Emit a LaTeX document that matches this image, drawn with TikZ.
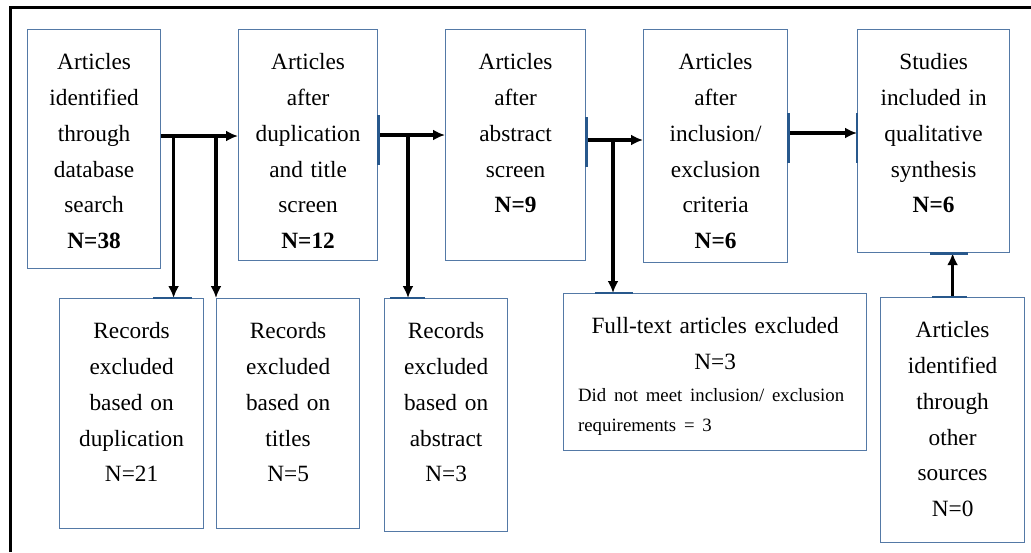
\documentclass[tikz,border=0pt]{standalone}
\usepackage{fontspec}
\setmainfont{Liberation Serif}
\usetikzlibrary{arrows.meta}
\definecolor{boxblue}{RGB}{84,121,166}
\definecolor{tickblue}{RGB}{40,88,140}

\begin{document}
\begin{tikzpicture}[x=1pt,y=-1pt,
  box/.style={draw=boxblue,line width=1.2pt,anchor=north west,align=center,
    inner xsep=2pt,inner ysep=0pt,text width=110pt,text height=40pt,
    font=\fontsize{23.3}{35.8}\selectfont},
  flow/.style={line width=3.5pt,-{Latex[length=12pt,width=11pt]}},
  tick/.style={draw=tickblue,line width=2.6pt}]
  \useasboundingbox (0,0) rectangle (1031,552);
  % outer frame
  \draw[line width=3pt] (10,552) -- (10,7) -- (1031,7);

  % top row
  \node[box,minimum width=133pt,text depth=199pt] (ident) at (27,29)
    {Articles\\identified\\through\\database\\search\\\textbf{N=38}};
  \node[box,minimum width=139pt,text depth=191pt] (dedup) at (238,29)
    {Articles\\after\\duplication\\and title\\screen\\\textbf{N=12}};
  \node[box,minimum width=140pt,text depth=191pt] (abstr) at (445,29)
    {Articles\\after\\abstract\\screen\\\textbf{N=9}};
  \node[box,minimum width=144pt,text depth=193pt] (elig) at (643,29)
    {Articles\\after\\inclusion/\\exclusion\\criteria\\\textbf{N=6}};
  \node[box,minimum width=152pt,text depth=183pt] (incl) at (857,29)
    {Studies\\included in\\qualitative\\synthesis\\\textbf{N=6}};

  % bottom row
  \node[box,minimum width=144pt,text depth=190pt] (exdup) at (59,298)
    {Records\\excluded\\based on\\duplication\\N=21};
  \node[box,minimum width=143pt,text depth=190pt] (extit) at (216,298)
    {Records\\excluded\\based on\\titles\\N=5};
  \node[box,minimum width=123pt,text depth=193pt] (exabs) at (384,298)
    {Records\\excluded\\based on\\abstract\\N=3};
  \node[box,minimum width=303pt,text width=290pt,text depth=117pt] (exfull) at (563,293)
    {Full-text articles excluded\\N=3\\[-4pt]
     \parbox[t]{274pt}{\raggedright\fontsize{18.8}{30}\selectfont
       Did not meet inclusion/ exclusion\\requirements = 3}};
  \node[box,minimum width=144pt,text depth=205pt] (other) at (880,297)
    {Articles\\identified\\through\\other\\sources\\N=0};

  % database search -> duplication and title screen
  \coordinate (j1) at (ident.east |- 0,136);
  \coordinate (d1) at ([xshift=42pt]exdup.north);
  \draw[flow] (j1) -- (j1 -| dedup.west);
  \draw[flow] (j1 -| d1) -- (d1);
  \draw[flow] (j1 -| extit.north west) -- (extit.north west);
  % title screen -> abstract screen
  \coordinate (j2) at (dedup.east |- 0,135);
  \coordinate (d2) at ([xshift=24pt]exabs.north west);
  \draw[flow] (j2) -- (j2 -| abstr.west);
  \draw[flow] (j2 -| d2) -- (d2);
  % abstract screen -> inclusion/exclusion
  \coordinate (j3) at (abstr.east |- 0,140);
  \coordinate (d3) at ([xshift=50pt]exfull.north west);
  \draw[flow] (j3) -- (j3 -| elig.west);
  \draw[flow] (j3 -| d3) -- (d3);
  % inclusion/exclusion -> synthesis
  \coordinate (j4) at (elig.east |- 0,133);
  \draw[flow] (j4) -- (j4 -| incl.west);
  \draw[flow] (other.north) -- (other.north |- incl.south);

  % connection marks on the box edges
  \draw[tick] (dedup.east |- 0,115) -- (dedup.east |- 0,165);
  \draw[tick] (abstr.east |- 0,117) -- (abstr.east |- 0,167);
  \draw[tick] (elig.east |- 0,113) -- (elig.east |- 0,163);
  \draw[tick] (incl.west |- 0,113) -- (incl.west |- 0,163);
  \draw[tick] (incl.south -| 930,0) -- (incl.south -| 968,0);
  \draw[tick] (other.north -| 932,0) -- (other.north -| 967,0);
  \draw[tick] (exdup.north -| 153,0) -- (exdup.north -| 192,0);
  \draw[tick] (exabs.north -| 390,0) -- (exabs.north -| 425,0);
  \draw[tick] (exfull.north -| 595,0) -- (exfull.north -| 633,0);
\end{tikzpicture}
\end{document}
